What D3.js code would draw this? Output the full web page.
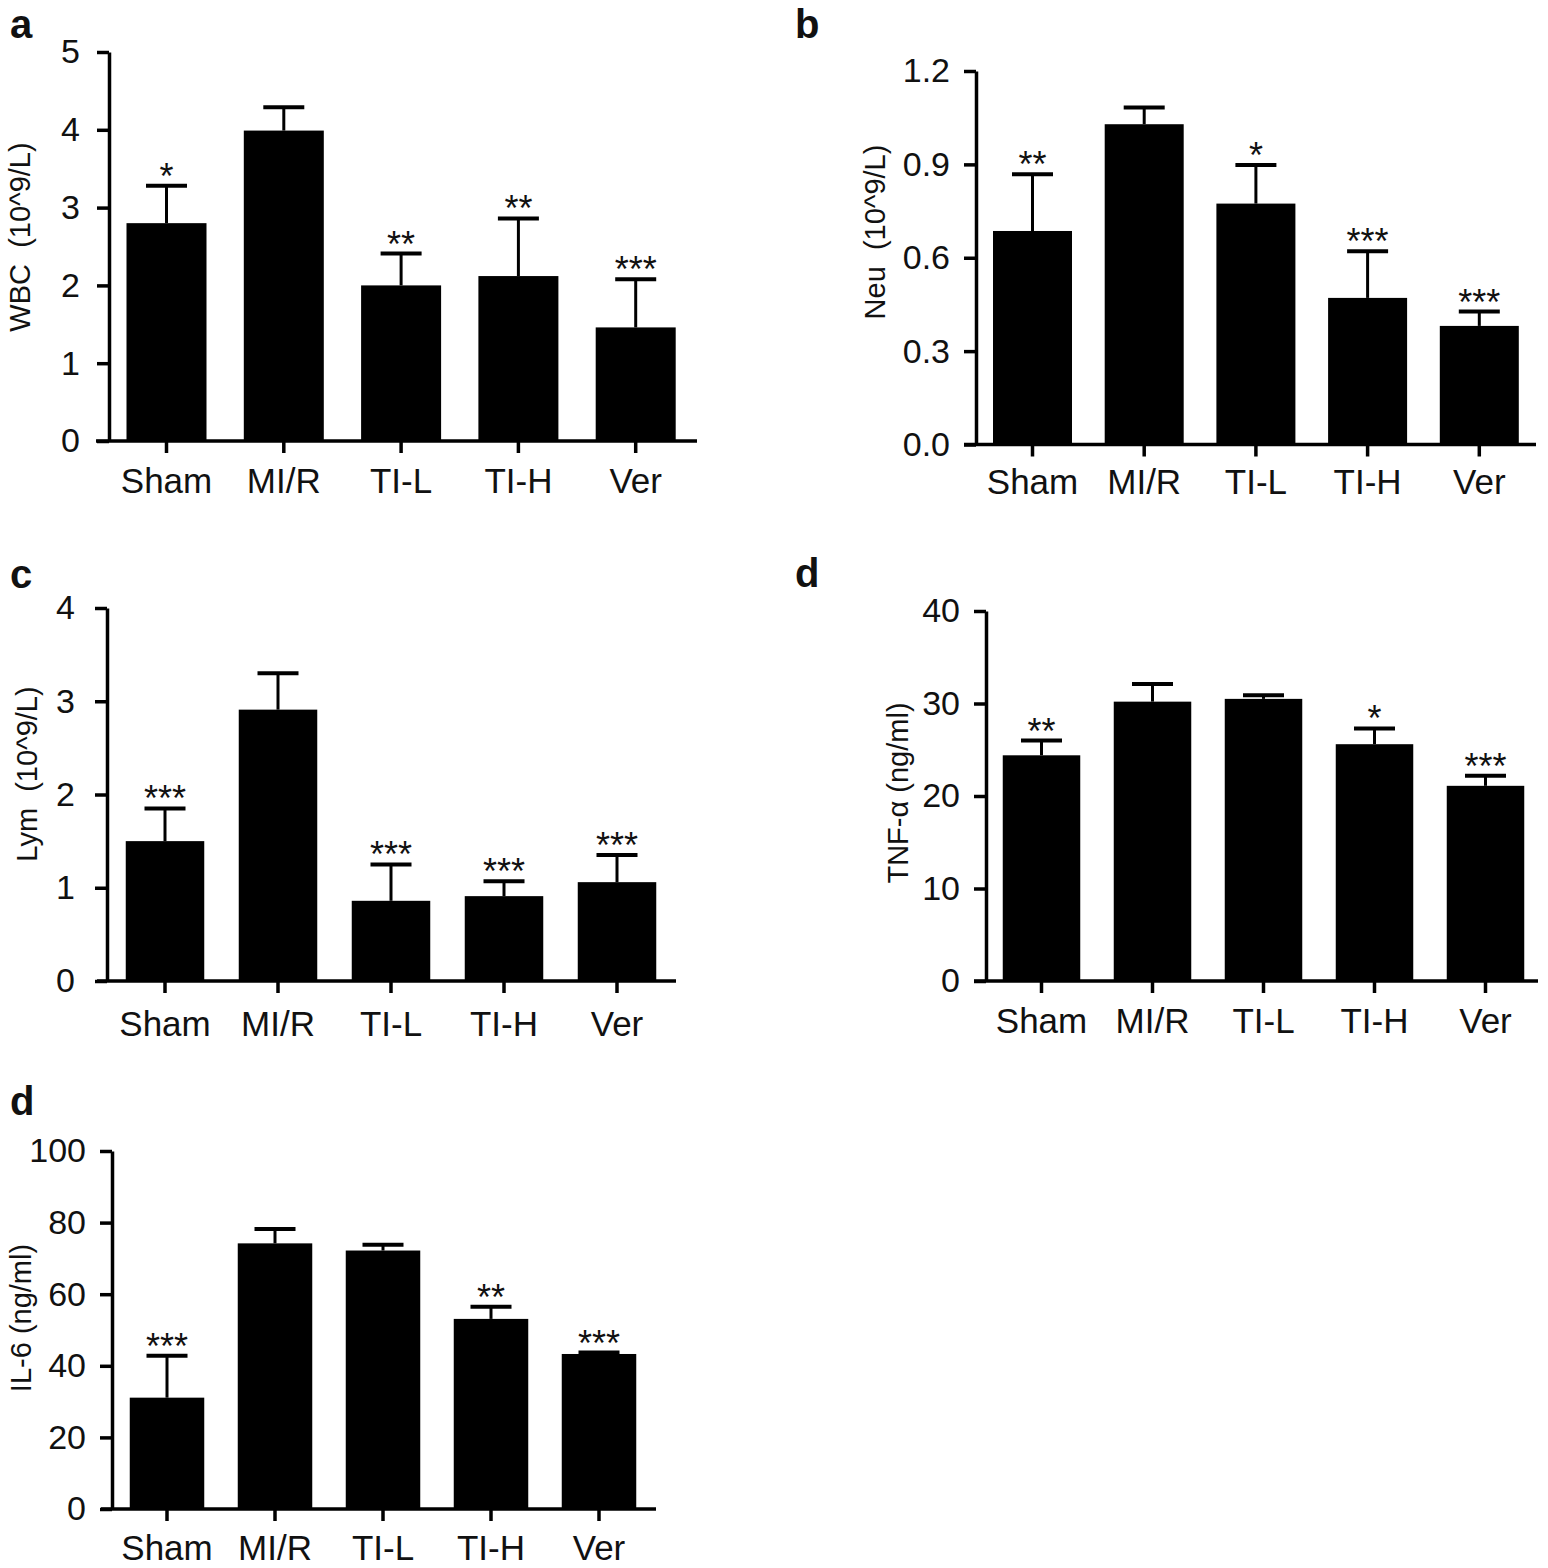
<!DOCTYPE html>
<html>
<head>
<meta charset="utf-8">
<script src="https://cdn.jsdelivr.net/npm/d3@7"></script>
<style>
  html, body { margin: 0; padding: 0; background: #fff; }
  svg { display: block; }
  text { font-family: "Liberation Sans", Arial, sans-serif; fill: #111; }
</style>
</head>
<body>
<svg id="chart" width="1548" height="1568"></svg>
<script>
// ---------- data ----------
const categories = ["Sham", "MI/R", "TI-L", "TI-H", "Ver"];

const wbcMean = [2.80, 3.99, 2.00, 2.12, 1.46];
const wbcErr  = [0.48, 0.30, 0.41, 0.74, 0.62];
const wbcSig  = ["*", "", "**", "**", "***"];
const wbcTicks = [0, 1, 2, 3, 4, 5];

const neuMean = [0.686, 1.029, 0.774, 0.471, 0.381];
const neuErr  = [0.182, 0.054, 0.124, 0.150, 0.046];
const neuSig  = ["**", "", "*", "***", "***"];
const neuTicks = [0, 0.3, 0.6, 0.9, 1.2];

const lymMean = [1.50, 2.91, 0.86, 0.91, 1.06];
const lymErr  = [0.35, 0.39, 0.39, 0.16, 0.29];
const lymSig  = ["***", "", "***", "***", "***"];
const lymTicks = [0, 1, 2, 3, 4];

const tnfMean = [24.4, 30.2, 30.5, 25.6, 21.1];
const tnfErr  = [1.6, 1.9, 0.4, 1.7, 1.1];
const tnfSig  = ["**", "", "", "*", "***"];
const tnfTicks = [0, 10, 20, 30, 40];

const il6Mean = [31.1, 74.2, 72.2, 53.1, 43.3];
const il6Err  = [11.7, 4.0, 1.6, 3.4, 0.4];
const il6Sig  = ["***", "", "", "**", "***"];
const il6Ticks = [0, 20, 40, 60, 80, 100];

// ---------- layout ----------
const panels = [
  { letter: "a", lx: 10, ly: 38, title: "WBC  (10^9/L)", tx: 20, ty: 237,
    mean: wbcMean, err: wbcErr, sig: wbcSig, ticks: wbcTicks, fmt: d3.format("d"),
    axisX: 109, y0: 441, yTop: 52, c0: 166.5, step: 117.3, bw: 80, xl: [96, 697], gap: 17, lab: 52 },
  { letter: "b", lx: 795, ly: 38, title: "Neu  (10^9/L)", tx: 875, ty: 232,
    mean: neuMean, err: neuErr, sig: neuSig, ticks: neuTicks, fmt: d3.format(".1f"),
    axisX: 976, y0: 444.5, yTop: 71, c0: 1032.5, step: 111.7, bw: 79, xl: [964, 1536], gap: 14, lab: 49 },
  { letter: "c", lx: 10, ly: 588, title: "Lym  (10^9/L)", tx: 27, ty: 774,
    mean: lymMean, err: lymErr, sig: lymSig, ticks: lymTicks, fmt: d3.format("d"),
    axisX: 107, y0: 981, yTop: 608, c0: 165, step: 113, bw: 78.5, xl: [97, 676], gap: 20, lab: 55 },
  { letter: "d", lx: 795, ly: 587, title: "TNF-α (ng/ml)", tx: 898, ty: 793,
    mean: tnfMean, err: tnfErr, sig: tnfSig, ticks: tnfTicks, fmt: d3.format("d"),
    axisX: 986, y0: 981, yTop: 611, c0: 1041.5, step: 111, bw: 77.5, xl: [974, 1538], gap: 14, lab: 52 },
  { letter: "d", lx: 10, ly: 1115, title: "IL-6 (ng/ml)", tx: 21, ty: 1318,
    mean: il6Mean, err: il6Err, sig: il6Sig, ticks: il6Ticks, fmt: d3.format("d"),
    axisX: 112, y0: 1509, yTop: 1151, c0: 167, step: 108, bw: 74.5, xl: [101, 656], gap: 14, lab: 51 }
];

const svg = d3.select("#chart");
const n = categories.length;

panels.forEach(p => {
  const g = svg.append("g");

  // y scale
  const yMax = p.ticks[p.ticks.length - 1];
  const y = d3.scaleLinear().domain([0, yMax]).range([p.y0, p.yTop]);

  // x band scale so that bar centres / widths match
  const pi = 1 - p.bw / p.step;
  const po = (p.c0 - p.bw / 2 - p.axisX) / p.step;
  const r1 = p.axisX + p.step * (n - pi + 2 * po);
  const x = d3.scaleBand().domain(categories).range([p.axisX, r1])
    .paddingInner(pi).paddingOuter(po);

  const data = categories.map((c, i) => ({ c, m: p.mean[i], e: p.err[i], s: p.sig[i] }));

  // bars
  g.selectAll("rect.bar").data(data).enter().append("rect")
    .attr("class", "bar")
    .attr("x", d => x(d.c))
    .attr("width", x.bandwidth())
    .attr("y", d => y(d.m))
    .attr("height", d => y(0) - y(d.m))
    .attr("fill", "#000");

  // error bars (upper only)
  const capHalf = 20.5;
  g.selectAll("line.err").data(data).enter().append("line")
    .attr("x1", d => x(d.c) + x.bandwidth() / 2)
    .attr("x2", d => x(d.c) + x.bandwidth() / 2)
    .attr("y1", d => y(d.m))
    .attr("y2", d => y(d.m + d.e))
    .attr("stroke", "#000").attr("stroke-width", 3);
  g.selectAll("line.cap").data(data).enter().append("line")
    .attr("x1", d => x(d.c) + x.bandwidth() / 2 - capHalf)
    .attr("x2", d => x(d.c) + x.bandwidth() / 2 + capHalf)
    .attr("y1", d => y(d.m + d.e))
    .attr("y2", d => y(d.m + d.e))
    .attr("stroke", "#000").attr("stroke-width", 4);

  // significance stars
  g.selectAll("text.sig").data(data.filter(d => d.s)).enter().append("text")
    .attr("x", d => x(d.c) + x.bandwidth() / 2)
    .attr("y", d => y(d.m + d.e) + 3)
    .attr("text-anchor", "middle")
    .style("font-size", "36px")
    .text(d => d.s);

  // y axis
  const ya = g.append("g").attr("transform", `translate(${p.axisX},0)`)
    .call(d3.axisLeft(y).tickValues(p.ticks).tickFormat(p.fmt)
      .tickSize(12).tickSizeOuter(0).tickPadding(p.gap));
  ya.select(".domain").attr("stroke", "#000").attr("stroke-width", 3.5);
  ya.selectAll(".tick line").attr("stroke", "#000").attr("stroke-width", 3.5);
  ya.selectAll(".tick text").style("font-size", "34px")
    .style("font-family", "'Liberation Sans', Arial, sans-serif").attr("fill", "#111");

  // x axis
  const xa = g.append("g").attr("transform", `translate(0,${p.y0})`)
    .call(d3.axisBottom(x).tickSize(12).tickSizeOuter(0));
  xa.select(".domain").remove();
  xa.selectAll(".tick line").attr("stroke", "#000").attr("stroke-width", 3.5);
  xa.selectAll(".tick text").style("font-size", "35px")
    .style("font-family", "'Liberation Sans', Arial, sans-serif").attr("fill", "#111")
    .attr("y", p.lab).attr("dy", null);
  g.append("line")
    .attr("x1", p.xl[0]).attr("x2", p.xl[1])
    .attr("y1", p.y0).attr("y2", p.y0)
    .attr("stroke", "#000").attr("stroke-width", 3.5);

  // y title
  g.append("text")
    .attr("transform", `translate(${p.tx},${p.ty}) rotate(-90)`)
    .attr("text-anchor", "middle")
    .attr("dy", "0.35em")
    .attr("xml:space", "preserve")
    .style("white-space", "pre")
    .style("font-size", "29px")
    .text(p.title);

  // panel letter
  g.append("text")
    .attr("x", p.lx).attr("y", p.ly)
    .style("font-size", "40px").style("font-weight", "bold")
    .attr("fill", "#000")
    .text(p.letter);
});
</script>
</body>
</html>
